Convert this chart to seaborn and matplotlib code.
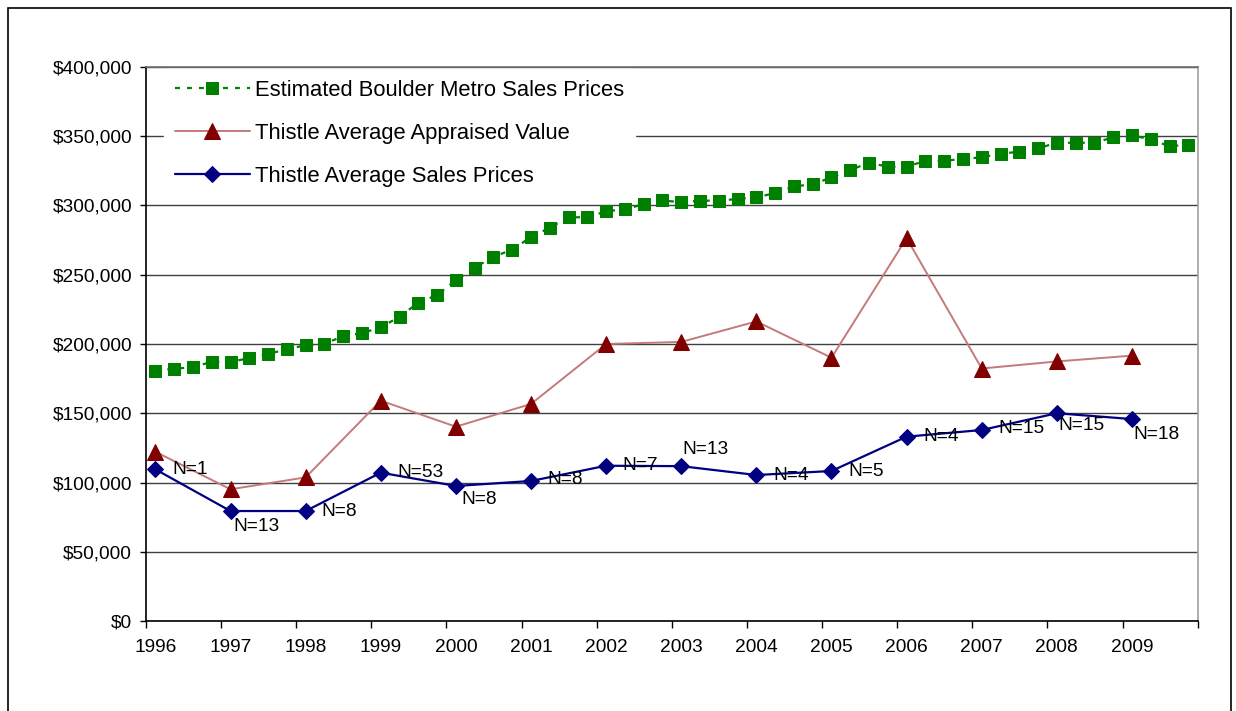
import numpy as np
import pandas as pd
import seaborn as sns
import matplotlib.pyplot as plt
from matplotlib.ticker import FuncFormatter, FixedLocator
from matplotlib.patches import Rectangle

# valores
metro_prices = [180700, 182200, 183200, 187200, 187200, 189700, 192800, 196200,
                199100, 200200, 205600, 207900, 212000, 219700, 229800, 235400,
                246000, 255100, 263000, 268100, 277200, 284000, 291500, 291500,
                295800, 297300, 300900, 303700, 302300, 303500, 303500, 304700,
                306100, 308800, 313800, 315300, 320300, 325600, 330900, 328000,
                328000, 332300, 332300, 333600, 334800, 337400, 338800, 341300,
                345300, 345300, 345300, 349200, 350600, 347800, 342700, 343900]

years = list(range(1996, 2010))
appraised = [122200, 95100, 103700, 159100, 140300, 156700, 200000,
             201500, 216300, 190100, 276400, 182300, 187400, 191600]
sales = [109500, 79400, 79400, 107100, 97500, 101100, 112100,
         111800, 105400, 108300, 133100, 137900, 150000, 145800]
n_labels = ["N=1", "N=13", "N=8", "N=53", "N=8", "N=8", "N=7",
            "N=13", "N=4", "N=5", "N=4", "N=15", "N=15", "N=18"]

quarters = [1996 + i / 4 for i in range(len(metro_prices))]
df_metro = pd.DataFrame({"x": quarters, "precio": metro_prices})
df_anual = pd.DataFrame({"x": years, "tasacion": appraised, "venta": sales})

sns.set_theme(style="white")
plt.rcParams['font.family'] = ['Liberation Sans', 'DejaVu Sans']
plt.rcParams['text.color'] = 'black'
plt.rcParams['xtick.color'] = 'black'
plt.rcParams['ytick.color'] = 'black'
plt.rcParams['xtick.labelcolor'] = 'black'
plt.rcParams['ytick.labelcolor'] = 'black'

fig = plt.figure(figsize=(12.36, 7.11), dpi=100)
ax = fig.add_axes([146 / 1236, 1 - 621 / 711, (1197.7 - 146) / 1236, (621 - 67) / 711])

# marco exterior
fig.patches.append(Rectangle((8 / 1236, -0.1), (1231 - 8) / 1236, 1.1 - 8 / 711,
                             transform=fig.transFigure, fill=False,
                             edgecolor="black", linewidth=1.2, zorder=0))

sns.lineplot(data=df_metro, x="x", y="precio", ax=ax, color="#008000",
             linestyle=(0, (2.2, 3.2)), linewidth=1.6, marker="s", markersize=9,
             markeredgecolor="#008000", label="Estimated Boulder Metro Sales Prices",
             zorder=3)
sns.lineplot(data=df_anual, x="x", y="tasacion", ax=ax, color="#C47a7a",
             linewidth=1.4, marker="^", markersize=11, markerfacecolor="#800000",
             markeredgecolor="#800000", label="Thistle Average Appraised Value",
             zorder=4)
sns.lineplot(data=df_anual, x="x", y="venta", ax=ax, color="#000080",
             linewidth=1.6, marker="D", markersize=8, markeredgecolor="#000080",
             label="Thistle Average Sales Prices", zorder=5)

# etiquetas N=
offsets = {0: (12, 0), 1: (2, -11), 2: (11, 0), 3: (12, 0), 4: (4, -10),
           5: (12, 1), 6: (12, 0), 7: (1, 12), 8: (12, 0), 9: (12, 0),
           10: (12, 0), 11: (12, 1), 12: (1, -9), 13: (1, -11)}
for i, (yr, v, txt) in enumerate(zip(years, sales, n_labels)):
    ax.annotate(txt, (yr, v), xytext=offsets[i], textcoords="offset points",
                ha="left", va="center", fontsize=13.8, color="black", zorder=6)

ax.set_xlim(1995.875, 2009.875)
ax.set_ylim(0, 400000)
ax.yaxis.set_major_locator(FixedLocator(np.arange(0, 400001, 50000)))
ax.yaxis.set_major_formatter(FuncFormatter(lambda v, p: f"${v:,.0f}"))
ax.xaxis.set_major_locator(FixedLocator(years))
ax.xaxis.set_major_formatter(FuncFormatter(lambda v, p: f"{int(round(v))}"))
ax.xaxis.set_minor_locator(FixedLocator(np.arange(1995.875, 2010, 1.0)))
ax.tick_params(axis="x", which="major", length=0, pad=13, labelsize=13.8)
ax.tick_params(axis="x", which="minor", length=5, width=1, color="black",
               direction="out", bottom=True)
ax.tick_params(axis="y", which="major", length=4, width=1, color="black",
               direction="out", left=True, pad=6, labelsize=13.8)

ax.grid(axis="y", color="#404040", linewidth=1)
ax.set_axisbelow(True)
ax.set_xlabel("")
ax.set_ylabel("")
ax.spines["left"].set_color("black")
ax.spines["bottom"].set_color("black")
ax.spines["top"].set_color("#707070")
ax.spines["right"].set_color("#a0a0a0")
for s in ax.spines.values():
    s.set_linewidth(1.2)

leg = ax.legend(loc="upper left", bbox_to_anchor=(18 / 1051.7, 1 - 2 / 554),
                fontsize=15.8, frameon=True, facecolor="white", edgecolor="white",
                framealpha=1, fancybox=False, handlelength=3.4,
                handletextpad=0.23, labelspacing=1.0, borderpad=0.5,
                borderaxespad=0)
leg.set_zorder(10)

plt.savefig("out.png", dpi=100)
plt.close()
